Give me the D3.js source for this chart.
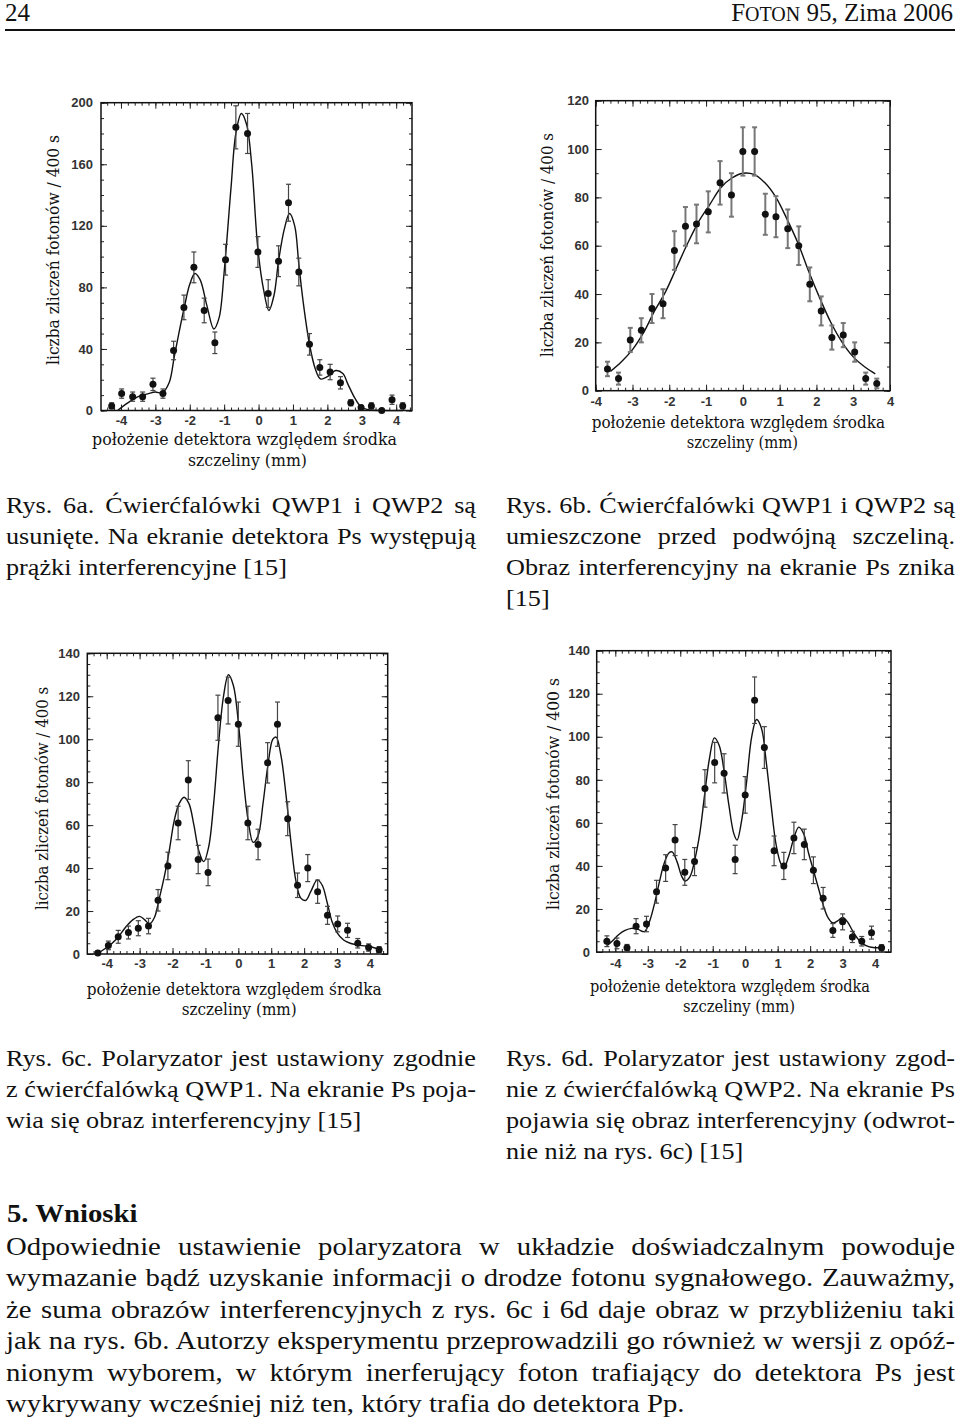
<!DOCTYPE html>
<html><head><meta charset="utf-8">
<script src="https://cdn.jsdelivr.net/npm/d3@7"></script>
<style>body{margin:0;background:#fff}</style>
</head><body>
<svg id="page" width="960" height="1426"></svg>
<script>
// ---------------- data ----------------
const xTickValues = [-4,-3,-2,-1,0,1,2,3,4];
const xTickLabels = ["-4","-3","-2","-1","0","1","2","3","4"];
const yTicksA = [0,40,80,120,160,200];
const yTicksB = [0,20,40,60,80,100,120];
const yTicksCD = [0,20,40,60,80,100,120,140];
const yTitle = "liczba zliczeń fotonów / 400 s";
const xTitle1 = "położenie detektora względem środka";
const xTitle2 = "szczeliny (mm)";

// Rys. 6a
const xA = [-4.27,-3.98,-3.66,-3.37,-3.07,-2.78,-2.47,-2.17,-1.88,-1.58,-1.27,-0.96,-0.66,-0.32,-0.02,0.28,0.58,0.87,1.17,1.48,1.78,2.08,2.38,2.68,2.98,3.28,3.58,3.88,4.19];
const yA = [3,11,9,9,17,11,39,67,93,65,44,98,184,180,103,76,97,135,90,43,28,25,18,5,2,3,0,7,3];
const eA = [2,3,3,3,4,3,6,8,10,8,7,10,14,13,10,9,10,12,9,7,5,5,4,2,1,2,1,3,2];
const fitXA = [-4.1,-3.8,-3.5,-3.2,-3.0,-2.8,-2.6,-2.45,-2.3,-2.15,-2.0,-1.85,-1.7,-1.5,-1.3,-1.15,-1.0,-0.8,-0.66,-0.5,-0.35,-0.2,-0.02,0.15,0.3,0.45,0.58,0.75,0.9,1.05,1.17,1.3,1.48,1.65,1.8,2.0,2.25,2.45,2.6,2.8,3.0,3.2,3.6,4.2];
const fitYA = [0,5,9,11,12,11.5,18,35,52,68,82,89,85,68,53,60,90,145,180,193,186,160,105,78,65,75,97,118,128,120,95,70,43,27,20.5,22,26,24,17,8,2,0.5,0,0];

// Rys. 6b
const xB = [-3.68,-3.38,-3.06,-2.76,-2.47,-2.17,-1.86,-1.56,-1.26,-0.94,-0.62,-0.31,0,0.32,0.61,0.9,1.22,1.52,1.82,2.13,2.42,2.73,3.04,3.34,3.64];
const yB = [9,5,21,25,34,36,58,68,69,74,86,81,99,99,73,72,67,60,44,33,22,23,16,5,3];
const eB = [3,2.5,5,5,6,6,8,8,8,8.5,9,9,10,10,8.5,8.5,8,8,7,6,5,5,4,2.5,2];
const fitXB = [-3.6,-3.3,-3.0,-2.7,-2.4,-2.1,-1.8,-1.5,-1.2,-0.9,-0.6,-0.3,0,0.3,0.6,0.9,1.2,1.5,1.8,2.1,2.4,2.7,3.0,3.3,3.6];
const fitYB = [8,12,17,24,33,41,51,61,70,77,84,88,90,89.5,86,80,71,61,49,38,28,20,14,10,7];

// Rys. 6c
const xC = [-4.27,-3.95,-3.65,-3.34,-3.04,-2.73,-2.44,-2.14,-1.83,-1.52,-1.22,-0.92,-0.62,-0.31,0,0.29,0.6,0.89,1.19,1.5,1.8,2.11,2.41,2.71,3.02,3.32,3.63,3.96,4.28];
const yC = [0.5,4,8,10,12,13,25,41,61,81,44,38,110,118,107,61,51,89,107,63,32,40,29,18,14,11,5,3,2];
const eC = [1,2,3,3,3.5,3.6,5,6.4,7.8,9,6.6,6.2,10.5,10.9,10.3,7.8,7.1,9.4,10.3,7.9,5.7,6.3,5.4,4.2,3.7,3.3,2.2,1.7,1.4];
const fitXC = [-4.3,-4.0,-3.7,-3.45,-3.2,-3.0,-2.85,-2.7,-2.55,-2.4,-2.25,-2.1,-1.95,-1.8,-1.65,-1.5,-1.35,-1.2,-1.05,-0.9,-0.75,-0.6,-0.45,-0.3,-0.15,0,0.15,0.3,0.45,0.6,0.75,0.9,1.05,1.15,1.3,1.45,1.6,1.75,1.9,2.05,2.2,2.4,2.55,2.7,2.85,3.0,3.2,3.4,3.7,4.0,4.3];
const fitYC = [0,3,7,12,16,17.5,16,14,17,26,36,48,62,70,73,70,60,48,43,50,70,98,120,130,125,108,82,62,52,55,70,88,100,101,92,74,52,34,26,25,29,34.5,32,24,15,10,6.5,5,4,3.5,2];

// Rys. 6d
const xD = [-4.26,-3.95,-3.64,-3.36,-3.04,-2.73,-2.45,-2.16,-1.86,-1.56,-1.24,-0.94,-0.65,-0.31,0,0.29,0.59,0.89,1.19,1.5,1.82,2.1,2.4,2.7,3.0,3.3,3.59,3.89,4.2];
const yD = [5,4,2,12,13,28,39,52,37,42,76,88,83,43,73,117,95,47,40,53,50,38,25,10,14,7,5,9,2];
const eD = [2.5,2.5,1.5,3.5,3.6,5.3,6.2,7.2,6,6.5,8.7,9.4,9.1,6.6,8.5,10.8,9.7,6.9,6.3,7.3,7.1,6.2,5,3.2,3.7,2.6,2.2,3,1.4];
const fitXD = [-4.25,-4.1,-3.9,-3.7,-3.5,-3.3,-3.1,-2.95,-2.8,-2.65,-2.5,-2.35,-2.25,-2.1,-1.95,-1.85,-1.7,-1.55,-1.4,-1.25,-1.1,-0.95,-0.8,-0.65,-0.5,-0.35,-0.25,-0.1,0.05,0.2,0.35,0.5,0.65,0.8,0.95,1.1,1.2,1.35,1.5,1.65,1.8,1.95,2.1,2.25,2.4,2.55,2.7,2.85,3.0,3.15,3.3,3.45,3.6,3.8,4.0,4.2];
const fitYD = [3,5,8,10,11,10.5,9.5,14,22,32,41,46,46.5,42,35,33,35,43,55,73,90,99.5,96,84,68,55,52,62,80,100,108,104,88,68,50,41,39.5,45,53,58,55,46,38,30,22,16,13.5,14.5,16,14,10,6.5,4,2.5,2,2];

// text
const headerLeft = "24";
const headerRight = ["F","OTON"," 95, Zima 2006"];
const capA = ["Rys. 6a. Ćwierćfalówki QWP1 i QWP2 są","usunięte. Na ekranie detektora Ps występują","prążki interferencyjne [15]"];
const capB = ["Rys. 6b. Ćwierćfalówki QWP1 i QWP2 są","umieszczone przed podwójną szczeliną.","Obraz interferencyjny na ekranie Ps znika","[15]"];
const capC = ["Rys. 6c. Polaryzator jest ustawiony zgodnie","z ćwierćfalówką QWP1. Na ekranie Ps poja-","wia się obraz interferencyjny [15]"];
const capD = ["Rys. 6d. Polaryzator jest ustawiony zgod-","nie z ćwierćfalówką QWP2. Na ekranie Ps","pojawia się obraz interferencyjny (odwrot-","nie niż na rys. 6c) [15]"];
const heading = "5. Wnioski";
const body = ["Odpowiednie ustawienie polaryzatora w układzie doświadczalnym powoduje",
"wymazanie bądź uzyskanie informacji o drodze fotonu sygnałowego. Zauważmy,",
"że suma obrazów interferencyjnych z rys. 6c i 6d daje obraz w przybliżeniu taki",
"jak na rys. 6b. Autorzy eksperymentu przeprowadzili go również w wersji z opóź-",
"nionym wyborem, w którym inerferujący foton trafiający do detektora Ps jest",
"wykrywany wcześniej niż ten, który trafia do detektora Pp."];

// ---------------- drawing ----------------
const svg = d3.select("#page");
const SERIF = "'Liberation Serif','Times New Roman',serif";

function textLine(str, x0, x1, base, size, sx, justify, weight){
  const g = svg.append("g").attr("transform",`translate(${x0},${base}) scale(${sx},1)`);
  const t = g.append("text").attr("x",0).attr("y",0)
    .attr("font-family",SERIF).attr("font-size",size)
    .attr("font-weight",weight||"normal").attr("fill","#111").text(str);
  if(justify){
    const w = t.node().getComputedTextLength();
    const target = (x1-x0)/sx;
    const n = (str.match(/ /g)||[]).length;
    if(n>0) t.style("word-spacing", ((target-w)/n)+"px");
  }
}

function range(a,b,step){
  const out=[]; const n0=Math.ceil(a/step-1e-9), n1=Math.floor(b/step+1e-9);
  for(let i=n0;i<=n1;i++) out.push(+(i*step).toFixed(6));
  return out;
}

function drawChart(c){
  const g = svg.append("g");
  const x = d3.scaleLinear().domain(c.xd).range([c.left,c.right]);
  const y = d3.scaleLinear().domain(c.yd).range([c.bottom,c.top]);
  const xMinor = range(c.xd[0],c.xd[1],0.2);
  const yMinor = range(c.yd[0],c.yd[1],c.yMinor);
  const tickStyle = s => s.call(a=>a.select(".domain").remove())
      .call(a=>a.selectAll(".tick line").attr("stroke","#222").attr("stroke-width",1));
  // minor ticks
  g.append("g").attr("transform",`translate(0,${c.bottom})`).call(d3.axisBottom(x).tickValues(xMinor).tickSize(-3).tickFormat("")).call(tickStyle);
  g.append("g").attr("transform",`translate(0,${c.top})`).call(d3.axisTop(x).tickValues(xMinor).tickSize(-3).tickFormat("")).call(tickStyle);
  g.append("g").attr("transform",`translate(${c.left},0)`).call(d3.axisLeft(y).tickValues(yMinor).tickSize(-3).tickFormat("")).call(tickStyle);
  g.append("g").attr("transform",`translate(${c.right},0)`).call(d3.axisRight(y).tickValues(yMinor).tickSize(-3).tickFormat("")).call(tickStyle);
  // major ticks + labels
  const bx = g.append("g").attr("transform",`translate(0,${c.bottom})`)
    .call(d3.axisBottom(x).tickValues(xTickValues).tickFormat((d,i)=>xTickLabels[i]).tickSizeInner(-6).tickSizeOuter(0).tickPadding(c.xLabelY-c.bottom-4.5)).call(tickStyle);
  g.append("g").attr("transform",`translate(0,${c.top})`).call(d3.axisTop(x).tickValues(xTickValues).tickSize(-6).tickFormat("")).call(tickStyle);
  const ly = g.append("g").attr("transform",`translate(${c.left},0)`)
    .call(d3.axisLeft(y).tickValues(c.yTicks).tickSizeInner(-6).tickSizeOuter(0).tickPadding(c.left-c.yLabelRight)).call(tickStyle);
  g.append("g").attr("transform",`translate(${c.right},0)`).call(d3.axisRight(y).tickValues(c.yTicks).tickSize(-6).tickFormat("")).call(tickStyle);
  [bx,ly].forEach(a=>a.selectAll("text").attr("font-family","'Liberation Sans',Arial,sans-serif")
      .attr("font-size",13).attr("font-weight","bold").attr("fill","#333"));
  // frame
  g.append("rect").attr("x",c.left).attr("y",c.top).attr("width",c.right-c.left).attr("height",c.bottom-c.top)
    .attr("fill","none").attr("stroke","#111").attr("stroke-width",1.5);
  // fit curve
  const line = d3.line().x(d=>x(d[0])).y(d=>y(d[1])).curve(d3.curveCatmullRom.alpha(0.5));
  g.append("path").datum(d3.zip(c.fitX,c.fitY)).attr("d",line)
    .attr("fill","none").attr("stroke","#111").attr("stroke-width",1.4);
  // error bars
  const pts = d3.zip(c.xs,c.ys,c.es);
  const eb = g.append("g").attr("stroke",c.ebColor).attr("stroke-width",c.ebWidth);
  eb.selectAll("line.v").data(pts).join("line").attr("class","v")
    .attr("x1",d=>x(d[0])).attr("x2",d=>x(d[0])).attr("y1",d=>y(Math.max(0,d[1]-d[2]))).attr("y2",d=>y(d[1]+d[2]));
  eb.selectAll("line.t").data(pts).join("line").attr("class","t")
    .attr("x1",d=>x(d[0])-2.5).attr("x2",d=>x(d[0])+2.5).attr("y1",d=>y(d[1]+d[2])).attr("y2",d=>y(d[1]+d[2]));
  eb.selectAll("line.b").data(pts).join("line").attr("class","b")
    .attr("x1",d=>x(d[0])-2.5).attr("x2",d=>x(d[0])+2.5).attr("y1",d=>y(Math.max(0,d[1]-d[2]))).attr("y2",d=>y(Math.max(0,d[1]-d[2])));
  // points
  g.append("g").selectAll("circle").data(pts).join("circle")
    .attr("cx",d=>x(d[0])).attr("cy",d=>y(d[1])).attr("r",3.5).attr("fill","#111");
  // titles
  const TF = "'DejaVu Serif',serif", TS = 17;
  g.append("text").attr("x",c.t1[0]).attr("y",c.t1[2]+5).attr("font-family",TF).attr("font-size",TS)
    .attr("fill","#111").attr("textLength",c.t1[1]-c.t1[0]).attr("lengthAdjust","spacingAndGlyphs").text(xTitle1);
  g.append("text").attr("x",c.t2[0]).attr("y",c.t2[2]+5).attr("font-family",TF).attr("font-size",TS)
    .attr("fill","#111").attr("textLength",c.t2[1]-c.t2[0]).attr("lengthAdjust","spacingAndGlyphs").text(xTitle2);
  g.append("text").attr("transform",`translate(${c.yt[0]+6},${c.yt[2]}) rotate(-90)`)
    .attr("font-family",TF).attr("font-size",TS).attr("fill","#111")
    .attr("textLength",c.yt[2]-c.yt[1]).attr("lengthAdjust","spacingAndGlyphs").text(yTitle);
}

drawChart({left:101,right:412,top:102.7,bottom:410.5,xd:[-4.58,4.46],yd:[0,200],yTicks:yTicksA,yMinor:10,
  yLabelRight:93,xLabelY:420,t1:[92,397,440],t2:[188,307,461],yt:[53,135,365],
  xs:xA,ys:yA,es:eA,fitX:fitXA,fitY:fitYA,ebColor:"#444",ebWidth:1.2});
drawChart({left:595.7,right:890,top:100.7,bottom:390.7,xd:[-4,4],yd:[0,120],yTicks:yTicksB,yMinor:10,
  yLabelRight:589,xLabelY:401.7,t1:[591.7,885,423.3],t2:[686.7,798,443.3],yt:[546.7,133,357],
  xs:xB,ys:yB,es:eB,fitX:fitXB,fitY:fitYB,ebColor:"#777",ebWidth:2});
drawChart({left:87.3,right:387.7,top:653.3,bottom:954,xd:[-4.59,4.54],yd:[0,140],yTicks:yTicksCD,yMinor:5,
  yLabelRight:80,xLabelY:963.3,t1:[86.7,381.7,990],t2:[181.7,296.7,1010],yt:[41.7,686.7,910],
  xs:xC,ys:yC,es:eC,fitX:fitXC,fitY:fitYC,ebColor:"#444",ebWidth:1.2});
drawChart({left:596.7,right:891,top:650.7,bottom:952,xd:[-4.573,4.49],yd:[0,140],yTicks:yTicksCD,yMinor:5,
  yLabelRight:590,xLabelY:963.3,t1:[590,870,986.7],t2:[683,795,1006.7],yt:[553.3,678,910],
  xs:xD,ys:yD,es:eD,fitX:fitXD,fitY:fitYD,ebColor:"#444",ebWidth:1.2});

// header
svg.append("text").attr("x",5).attr("y",21).attr("font-family",SERIF).attr("font-size",25).attr("fill","#111").text(headerLeft);
const hr = svg.append("text").attr("x",953).attr("y",21).attr("text-anchor","end").attr("font-family",SERIF).attr("font-size",25).attr("fill","#111");
hr.append("tspan").text(headerRight[0]);
hr.append("tspan").attr("font-size",20).text(headerRight[1]);
hr.append("tspan").text(headerRight[2]);
svg.append("line").attr("x1",5).attr("x2",955).attr("y1",30).attr("y2",30).attr("stroke","#111").attr("stroke-width",2);

// captions
const CS=23, CSX=1.14;
capA.forEach((s,i)=>textLine(s,6,476,513+i*31,CS,CSX,i<capA.length-1));
capB.forEach((s,i)=>textLine(s,506,955,513+i*31,CS,CSX,i<capB.length-1));
capC.forEach((s,i)=>textLine(s,6,476,1066+i*31,CS,CSX,i<capC.length-1));
capD.forEach((s,i)=>textLine(s,506,955,1066+i*31,CS,CSX,i<capD.length-1));

// body
textLine(heading,7,200,1221.5,25,1.15,false,"bold");
body.forEach((s,i)=>textLine(s,6,955,1254.5+i*31.5,25,1.15,i<body.length-1));
</script>
</body></html>
